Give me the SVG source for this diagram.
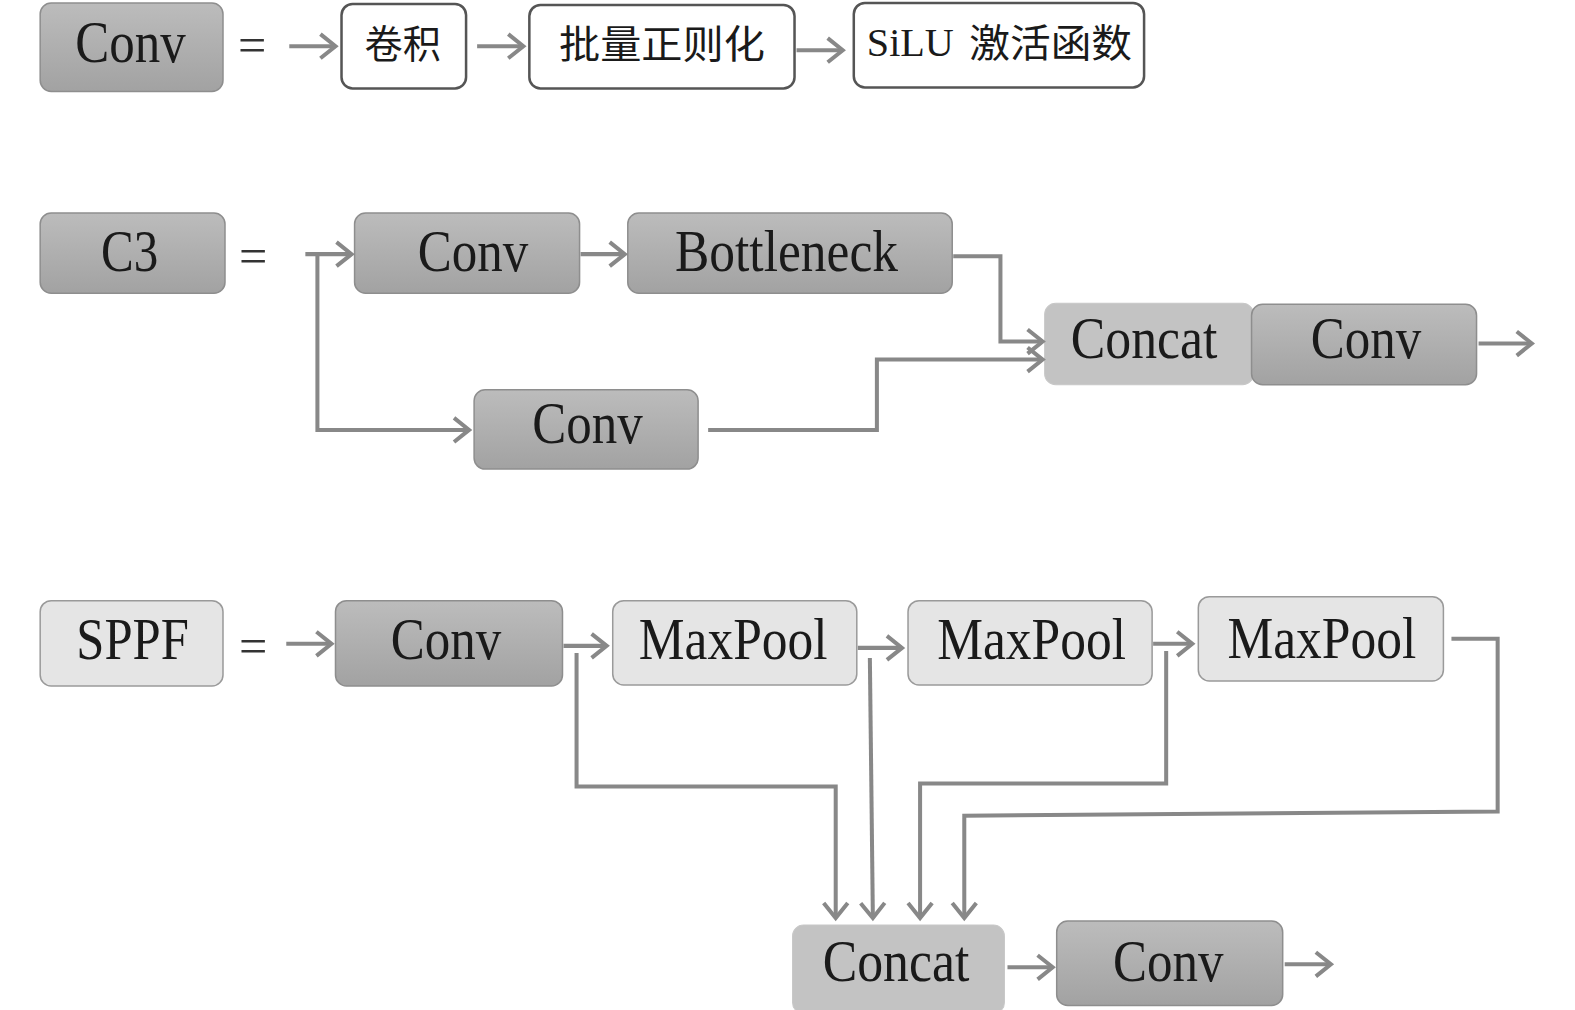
<svg xmlns="http://www.w3.org/2000/svg" width="1575" height="1010" viewBox="0 0 1575 1010">
<defs>
<linearGradient id="dk" x1="0" y1="0" x2="0" y2="1"><stop offset="0" stop-color="#bcbcbc"/><stop offset="1" stop-color="#a2a2a2"/></linearGradient>
<marker id="ah" markerUnits="userSpaceOnUse" markerWidth="30" markerHeight="30" viewBox="-20 -15 25 30" refX="0" refY="0" orient="auto"><path d="M-15,-12 L0,0 L-15,12" fill="none" stroke="#888" stroke-width="4"/></marker>
</defs>
<style>
.dark{fill:url(#dk);stroke:#8e8e8e;stroke-width:1.5}
.white{fill:#fff;stroke:#555;stroke-width:2.5}
.light{fill:#e5e5e5;stroke:#9a9a9a;stroke-width:1.5}
.cat{fill:#c3c3c3;stroke:#c8c8c8;stroke-width:1}
.t{font-family:"Liberation Serif","Times New Roman",serif;font-size:58px;fill:#1a1a1a;text-anchor:middle}
.c{font-family:"Noto Sans CJK SC","Noto Sans CJK JP",sans-serif;font-size:38px;fill:#1a1a1a;text-anchor:middle}
.s{font-family:"Liberation Serif","Times New Roman",serif;font-size:40px;fill:#1a1a1a}
.eq{font-family:"Liberation Serif","Times New Roman",serif;font-size:50px;fill:#333;text-anchor:middle}
.ln{fill:none;stroke:#888;stroke-width:4}
.ar{fill:none;stroke:#888;stroke-width:4;marker-end:url(#ah)}
</style>
<rect width="1575" height="1010" fill="#fff"/>
<g transform="scale(1.00446)">
<g id="row1">
<g id="conv-def"><rect class="dark" x="40" y="3" width="182" height="88" rx="11"/><text class="t" x="130" y="62" textLength="110" lengthAdjust="spacingAndGlyphs">Conv</text></g>
<text class="eq" x="251" y="62">=</text>
<g id="juanji"><rect class="white" x="340" y="4" width="124" height="84" rx="11"/><text class="c" x="401" y="58">卷积</text></g>
<g id="bn"><rect class="white" x="527" y="5" width="264" height="83" rx="11"/><text class="c" x="659" y="58" textLength="205" lengthAdjust="spacingAndGlyphs">批量正则化</text></g>
<g id="silu"><rect class="white" x="850" y="3" width="289" height="84" rx="11"/><text class="s" x="863" y="56">SiLU</text><text class="c" x="1046" y="57" textLength="162" lengthAdjust="spacingAndGlyphs">激活函数</text></g>
</g>
<g id="row2">
<g id="c3"><rect class="dark" x="40" y="212" width="184" height="80" rx="11"/><text class="t" x="129" y="270" textLength="57" lengthAdjust="spacingAndGlyphs">C3</text></g>
<text class="eq" x="252" y="272">=</text>
<g id="c3-conv1"><rect class="dark" x="353" y="212" width="224" height="80" rx="11"/><text class="t" x="471" y="270" textLength="110" lengthAdjust="spacingAndGlyphs">Conv</text></g>
<g id="bottleneck"><rect class="dark" x="625" y="212" width="323" height="80" rx="11"/><text class="t" x="783" y="270" textLength="222" lengthAdjust="spacingAndGlyphs">Bottleneck</text></g>
<g id="c3-conv2"><rect class="dark" x="472" y="388" width="223" height="79" rx="11"/><text class="t" x="585" y="441" textLength="110" lengthAdjust="spacingAndGlyphs">Conv</text></g>
<g id="c3-concat"><rect class="cat" x="1040" y="302" width="208" height="81" rx="11"/><text class="t" x="1139" y="356" textLength="146" lengthAdjust="spacingAndGlyphs">Concat</text></g>
<g id="c3-conv3"><rect class="dark" x="1246" y="303" width="224" height="80" rx="11"/><text class="t" x="1360" y="356" textLength="110" lengthAdjust="spacingAndGlyphs">Conv</text></g>
</g>
<g id="row3">
<g id="sppf"><rect class="light" x="40" y="598" width="182" height="85" rx="11"/><text class="t" x="132" y="656" textLength="112" lengthAdjust="spacingAndGlyphs">SPPF</text></g>
<text class="eq" x="252" y="660">=</text>
<g id="sppf-conv1"><rect class="dark" x="334" y="598" width="226" height="85" rx="11"/><text class="t" x="444" y="656" textLength="110" lengthAdjust="spacingAndGlyphs">Conv</text></g>
<g id="mp1"><rect class="light" x="610" y="598" width="243" height="84" rx="11"/><text class="t" x="730" y="656" textLength="188" lengthAdjust="spacingAndGlyphs">MaxPool</text></g>
<g id="mp2"><rect class="light" x="904" y="598" width="243" height="84" rx="11"/><text class="t" x="1027" y="656" textLength="188" lengthAdjust="spacingAndGlyphs">MaxPool</text></g>
<g id="mp3"><rect class="light" x="1193" y="594" width="244" height="84" rx="11"/><text class="t" x="1316" y="655" textLength="188" lengthAdjust="spacingAndGlyphs">MaxPool</text></g>
<g id="sppf-concat"><rect class="cat" x="789" y="921" width="211" height="88" rx="11"/><text class="t" x="892" y="977" textLength="146" lengthAdjust="spacingAndGlyphs">Concat</text></g>
<g id="sppf-conv2"><rect class="dark" x="1052" y="917" width="225" height="84" rx="11"/><text class="t" x="1163" y="977" textLength="110" lengthAdjust="spacingAndGlyphs">Conv</text></g>
</g>
<g id="connectors">
<path class="ar" d="M288,46 H334"/>
<path class="ar" d="M475,46 H521"/>
<path class="ar" d="M793,50 H839"/>
<path class="ar" d="M304,253 H350"/>
<path class="ar" d="M578,253 H622"/>
<path class="ar" d="M316,253 V428 H467"/>
<path class="ar" d="M949,255 H996 V340 H1038"/>
<path class="ar" d="M705,428 H873 V358 H1038"/>
<path class="ar" d="M1472,342 H1525"/>
<path class="ar" d="M285,641 H330"/>
<path class="ar" d="M561,643 H604"/>
<path class="ar" d="M854,645 H898"/>
<path class="ar" d="M1148,641 H1187"/>
<path class="ar" d="M574,650 V783 H832 V914"/>
<path class="ar" d="M866,655 L869,914"/>
<path class="ar" d="M1161,648 V780 H916 V914"/>
<path class="ar" d="M1445,636 H1491 V808 L960,812 V914"/>
<path class="ar" d="M1003,963 H1048"/>
<path class="ar" d="M1279,960 H1325"/>
</g>
</g>
</svg>
